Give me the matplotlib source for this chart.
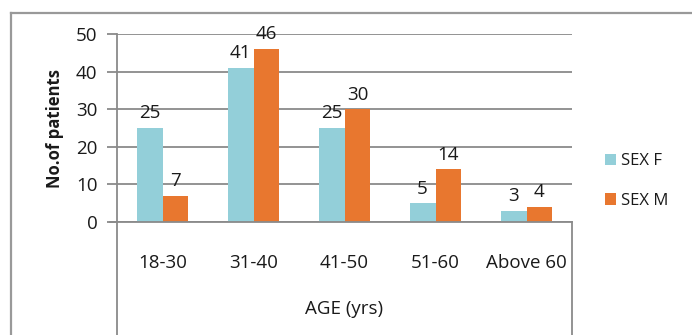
import matplotlib
matplotlib.use("Agg")
import matplotlib.pyplot as plt
from matplotlib.lines import Line2D
import numpy as np

plt.rcParams['font.family'] = ['Open Sans', 'DejaVu Sans']

categories = ["18-30", "31-40", "41-50", "51-60", "Above 60"]
sex_f = [25, 41, 25, 5, 3]
sex_m = [7, 46, 30, 14, 4]
y_ticks = [0, 10, 20, 30, 40, 50]

W, H = 692, 335
fig = plt.figure(figsize=(W / 100, H / 100), dpi=100)

# plot area in pixel coordinates
left, right, top, bottom = 117, 572, 34, 222
ax = fig.add_axes([left / W, 1 - bottom / H, (right - left) / W, (bottom - top) / H])

grey = "#8a8a8a"
txt = "#1a1a1a"
c_f = "#93CFD9"
c_m = "#E8772F"

x = np.arange(len(categories))
bw = 0.285
bars_f = ax.bar(x - bw / 2, sex_f, bw, color=c_f, label="SEX F", zorder=3)
bars_m = ax.bar(x + bw / 2, sex_m, bw, color=c_m, label="SEX M", zorder=3)

for bars, vals in ((bars_f, sex_f), (bars_m, sex_m)):
    for b, v in zip(bars, vals):
        ax.annotate(str(v), (b.get_x() + b.get_width() / 2, v),
                    xytext=(0, 4), textcoords="offset points",
                    ha="center", va="bottom", fontsize=13.5, color=txt)

ax.set_xlim(-0.5, len(categories) - 0.5)
ax.set_ylim(0, 50)
ax.set_yticks(y_ticks)
ax.set_xticks(x)
ax.set_xticklabels(categories)
ax.yaxis.grid(True, color=grey, linewidth=1.3, zorder=0)
ax.set_axisbelow(True)

for s in ("top", "right"):
    ax.spines[s].set_visible(False)
ax.spines["left"].set_color(grey)
ax.spines["left"].set_linewidth(1.3)
ax.spines["bottom"].set_visible(False)

ax.tick_params(axis="y", length=7, width=1.3, color=grey, labelsize=13.5,
               pad=7, labelcolor=txt)
ax.tick_params(axis="x", length=0, labelsize=13.5, pad=23, labelcolor=txt)

ax.set_ylabel("No.of patients", fontsize=12, fontweight="bold", labelpad=9,
              color=txt)
ax.set_xlabel("AGE (yrs)", fontsize=13.5, labelpad=20, color=txt)

def fig_line(x0, y0, x1, y1, lw=1.3, color=grey):
    fig.add_artist(Line2D([x0 / W, x1 / W], [1 - y0 / H, 1 - y1 / H],
                          transform=fig.transFigure, color=color, linewidth=lw))

# category axis line and the frame of the category band below it
fig_line(110, bottom, right, bottom)
fig_line(left, bottom, left, H)
fig_line(right, bottom, right, H)
# outer chart border
fig_line(11, 13, W, 13, lw=1.6, color="#999999")
fig_line(11, 13, 11, H, lw=1.6, color="#999999")

fig.legend(handles=[bars_f, bars_m], labels=["SEX F", "SEX M"],
           loc="center left", bbox_to_anchor=(598 / W, 1 - 181 / H),
           frameon=False, fontsize=12, handlelength=0.7, handleheight=0.7,
           handletextpad=0.3, labelspacing=1.4, borderaxespad=0,
           labelcolor=txt)

fig.savefig("out.png", dpi=100)
